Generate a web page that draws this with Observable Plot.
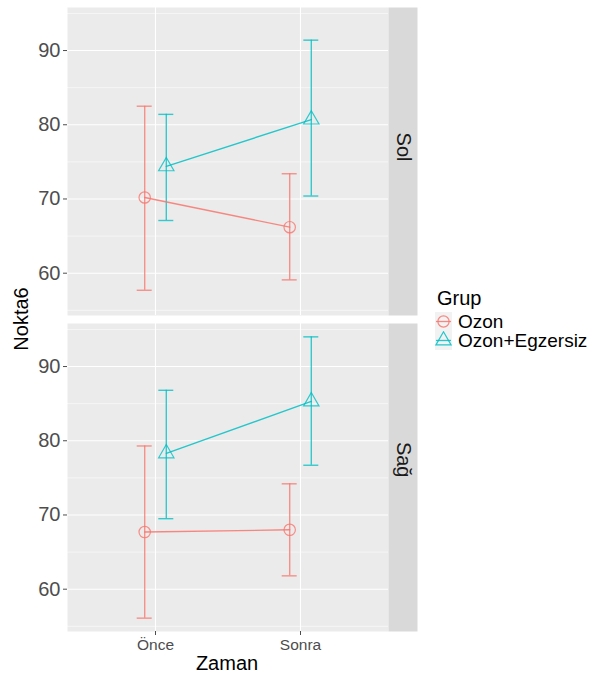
<!DOCTYPE html>
<html>
<head>
<meta charset="utf-8">
<script src="https://cdn.jsdelivr.net/npm/d3@7"></script>
<script src="https://cdn.jsdelivr.net/npm/@observablehq/plot@0.6"></script>
<style>
  html, body { margin: 0; padding: 0; background: #fff; }
  body { font-family: "Liberation Sans", Arial, sans-serif; }
  #wrap { position: relative; width: 603px; height: 675px; }
  #chart svg { display: block; }
  .ttl { position: absolute; font-size: 20px; color: #000; white-space: nowrap; line-height: 1; }
  #ytitle { left: 21px; top: 319px; transform: translate(-50%, -50%) rotate(-90deg); }
  #xtitle { left: 227px; top: 663px; transform: translate(-50%, -50%); }
  #legend { position: absolute; left: 435px; top: 287px; font-size: 19px; color: #000; }
  #legend .title { margin-left: 2px; margin-bottom: 3px; line-height: 22px; font-size: 20px; }
  #legend .row { display: flex; align-items: center; height: 19px; }
  #legend .row svg { display: block; background: #F2F2F2; }
  #legend .row span { margin-left: 6px; line-height: 19px; }
</style>
</head>
<body>
<div id="wrap">
  <div id="chart"></div>
  <div class="ttl" id="ytitle">Nokta6</div>
  <div class="ttl" id="xtitle">Zaman</div>
  <div id="legend"></div>
</div>
<script>
// ---- data ----
const zaman = ["Önce", "Sonra"];
const gruplar = ["Ozon", "Ozon+Egzersiz"];
const taraflar = ["Sol", "Sağ"];
const renkler = ["#F8766D", "#00BFC4"];
const semboller = ["circle", "triangle"];
const yTicks = [60, 70, 80, 90];
const yMinorTicks = [55, 65, 75, 85, 95];

// Sol
const solOzonMean = [70.2, 66.2];
const solOzonLo   = [57.7, 59.1];
const solOzonHi   = [82.5, 73.4];
const solEgzMean  = [74.4, 80.7];
const solEgzLo    = [67.1, 70.4];
const solEgzHi    = [81.4, 91.4];
// Sağ
const sagOzonMean = [67.7, 68.0];
const sagOzonLo   = [56.1, 61.8];
const sagOzonHi   = [79.3, 74.2];
const sagEgzMean  = [78.3, 85.3];
const sagEgzLo    = [69.5, 76.7];
const sagEgzHi    = [86.8, 94.0];

const series = [
  {taraf: "Sol", grup: "Ozon", mean: solOzonMean, lo: solOzonLo, hi: solOzonHi},
  {taraf: "Sol", grup: "Ozon+Egzersiz", mean: solEgzMean, lo: solEgzLo, hi: solEgzHi},
  {taraf: "Sağ", grup: "Ozon", mean: sagOzonMean, lo: sagOzonLo, hi: sagOzonHi},
  {taraf: "Sağ", grup: "Ozon+Egzersiz", mean: sagEgzMean, lo: sagEgzLo, hi: sagEgzHi}
];
const rows = [];
for (const s of series) {
  zaman.forEach((z, i) => rows.push({taraf: s.taraf, grup: s.grup, zaman: z, mean: s.mean[i], lo: s.lo[i], hi: s.hi[i]}));
}

// ---- marks ----
const dodge = [-10.8, 10.8];
const cap = 7.5;
const seriesMarks = [];
gruplar.forEach((g, gi) => {
  const filter = d => d.grup === g;
  const style = {stroke: renkler[gi], strokeOpacity: 0.78, strokeWidth: 1.4, dx: dodge[gi]};
  seriesMarks.push(
    Plot.ruleX(rows, {filter, x: "zaman", y1: "lo", y2: "hi", ...style}),
    Plot.ruleY(rows, {filter, x1: "zaman", x2: "zaman", y: "hi", insetLeft: -cap, insetRight: -cap, ...style}),
    Plot.ruleY(rows, {filter, x1: "zaman", x2: "zaman", y: "lo", insetLeft: -cap, insetRight: -cap, ...style})
  );
});
gruplar.forEach((g, gi) => {
  const filter = d => d.grup === g;
  seriesMarks.push(
    Plot.line(rows, {filter, x: "zaman", y: "mean", stroke: renkler[gi], strokeOpacity: 0.85, strokeWidth: 1.4, dx: dodge[gi]})
  );
});
gruplar.forEach((g, gi) => {
  const filter = d => d.grup === g;
  seriesMarks.push(
    Plot.dot(rows, {filter, x: "zaman", y: "mean", symbol: semboller[gi], r: 5.7, fill: "none",
      stroke: renkler[gi], strokeOpacity: 0.8, strokeWidth: 1.2, dx: dodge[gi]})
  );
});

const chart = Plot.plot({
  width: 603,
  height: 675,
  marginLeft: 67,
  marginRight: 215,
  marginTop: 7,
  marginBottom: 44,
  style: {fontFamily: "'Liberation Sans', Arial, sans-serif", background: "transparent"},
  facet: {data: rows, y: "taraf"},
  fy: {domain: taraflar, axis: null, label: null, paddingInner: 8 / 316, paddingOuter: 0},
  x: {type: "point", domain: zaman, padding: 0.6, label: null},
  y: {domain: [54.3, 95.8], label: null},
  marks: [
    Plot.frame({fill: "#EBEBEB"}),
    Plot.gridY({ticks: yMinorTicks, stroke: "#fff", strokeOpacity: 1, strokeWidth: 0.55}),
    Plot.gridY({ticks: yTicks, stroke: "#fff", strokeOpacity: 1, strokeWidth: 1.1}),
    Plot.gridX({stroke: "#fff", strokeOpacity: 1, strokeWidth: 1.1}),
    Plot.frame({fill: "#D9D9D9", insetLeft: 321, insetRight: -29}),
    Plot.text(rows, Plot.selectFirst({text: "taraf", frameAnchor: "right", dx: 14.5, rotate: 90,
      fontSize: 20, fill: "#1A1A1A"})),
    ...seriesMarks,
    Plot.axisY({ticks: yTicks, tickSize: 4, tickPadding: 3, fontSize: 20, color: "#4D4D4D", label: null}),
    Plot.axisX({tickSize: 4, tickPadding: 3, fontSize: 15.5, color: "#4D4D4D", label: null})
  ]
});
document.getElementById("chart").appendChild(chart);

// ---- legend ----
const legend = document.getElementById("legend");
const t = document.createElement("div");
t.className = "title";
t.textContent = "Grup";
legend.appendChild(t);
gruplar.forEach((g, gi) => {
  const row = document.createElement("div");
  row.className = "row";
  const ns = "http://www.w3.org/2000/svg";
  const svg = document.createElementNS(ns, "svg");
  svg.setAttribute("width", 17);
  svg.setAttribute("height", 19);
  const line = document.createElementNS(ns, "line");
  line.setAttribute("x1", 1); line.setAttribute("x2", 16);
  line.setAttribute("y1", 9.5); line.setAttribute("y2", 9.5);
  line.setAttribute("stroke", renkler[gi]); line.setAttribute("stroke-opacity", 0.85);
  line.setAttribute("stroke-width", 1.3);
  svg.appendChild(line);
  const p = document.createElementNS(ns, "path");
  p.setAttribute("d", d3.symbol(semboller[gi] === "circle" ? d3.symbolCircle : d3.symbolTriangle, Math.PI * 5.6 * 5.6)());
  p.setAttribute("transform", "translate(8.5,9.5)");
  p.setAttribute("fill", "none");
  p.setAttribute("stroke", renkler[gi]); p.setAttribute("stroke-opacity", 0.85);
  p.setAttribute("stroke-width", 1.2);
  svg.appendChild(p);
  row.appendChild(svg);
  const s = document.createElement("span");
  s.textContent = g;
  row.appendChild(s);
  legend.appendChild(row);
});
</script>
</body>
</html>
